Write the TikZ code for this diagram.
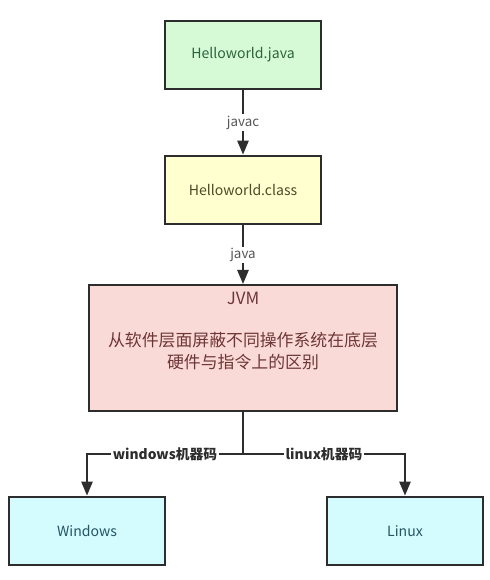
\documentclass[tikz,border=0pt]{standalone}
\usepackage{fontspec}
\setmainfont{Noto Sans CJK SC}
\usepackage{xcolor}
\definecolor{jgreen}{RGB}{214,250,214}
\definecolor{jgreentxt}{RGB}{45,100,60}
\definecolor{jyellow}{RGB}{255,255,208}
\definecolor{jyellowtxt}{RGB}{75,75,40}
\definecolor{jpink}{RGB}{250,218,214}
\definecolor{jpinktxt}{RGB}{110,55,55}
\definecolor{jcyan}{RGB}{212,251,253}
\definecolor{jcyantxt}{RGB}{35,85,100}
\definecolor{jline}{RGB}{45,45,45}
\usetikzlibrary{arrows.meta, positioning}

\tikzset{
  box/.style={draw=jline, line width=1.4pt, minimum width=3.9cm, minimum height=1.72cm, font=\fontsize{10}{12}\selectfont},
  arr/.style={draw=jline, line width=1.4pt, -{Triangle[width=8pt,length=10pt]}},
  lbl/.style={fill=white, inner sep=1pt, font=\fontsize{9.5}{11}\selectfont, text=jline!80}
}

\begin{document}
\begin{tikzpicture}[x=0.025cm, y=-0.025cm]
  \useasboundingbox (0,0) rectangle (489,580);
  % source and bytecode
  \node[box, fill=jgreen, text=jgreentxt] (src) at (243,55) {Helloworld.java};
  \node[box, fill=jyellow, text=jyellowtxt] (cls) at (243,190) {Helloworld.class};
  % virtual machine
  \node[box, fill=jpink, minimum width=7.7cm, minimum height=3.15cm] (jvm) at (243,348) {};
  \node[font=\fontsize{12}{14}\selectfont, text=jpinktxt] (jvmname) at (243,298) {JVM};
  \node[font=\fontsize{12}{15.6}\selectfont, text=jpinktxt, align=center] (jvmdesc) at (243,351)
    {从软件层面屏蔽不同操作系统在底层\\硬件与指令上的区别};
  % platforms
  \node[box, fill=jcyan, text=jcyantxt] (win) at (87,531) {Windows};
  \node[box, fill=jcyan, text=jcyantxt] (lnx) at (405,531) {Linux};

  \draw[arr] (src) -- node[lbl] {javac} (cls);
  \draw[arr] (cls) -- node[lbl] {java} (jvm);
  \coordinate (split) at (243,454);
  \draw[draw=jline, line width=1.4pt] (jvm.south) -- (split);
  \draw[arr] (split) -| node[lbl, pos=0.25, font=\fontsize{9.8}{11}\selectfont\bfseries, text=jline] {windows机器码} (win.north);
  \draw[arr] (split) -| node[lbl, pos=0.25, font=\fontsize{9.8}{11}\selectfont\bfseries, text=jline] {linux机器码} (lnx.north);
\end{tikzpicture}
\end{document}
